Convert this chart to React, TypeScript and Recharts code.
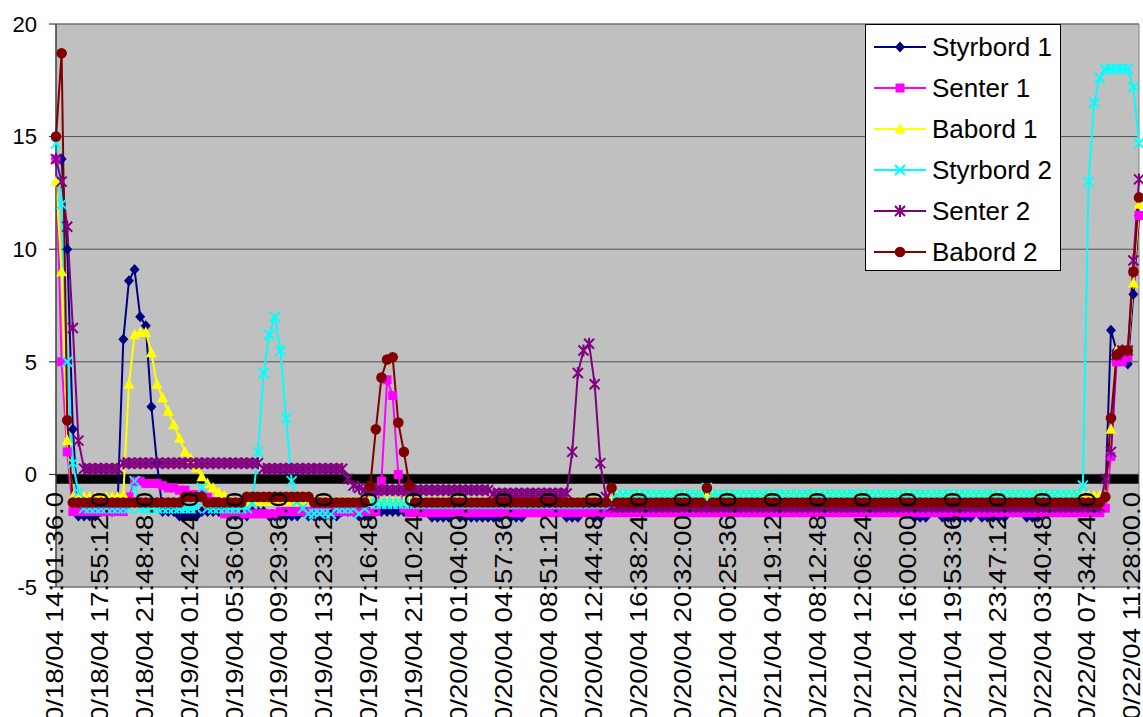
import React from "react";
import {
  LineChart,
  Line,
  XAxis,
  YAxis,
  CartesianGrid,
  ReferenceArea,
  Legend,
} from "recharts";

const FONT = "'Liberation Sans', Arial, sans-serif";

// tick labels, one every 8 samples
const tickLabels = [
  "10/18/04 14:01:36.0",
  "10/18/04 17:55:12.0",
  "10/18/04 21:48:48.0",
  "10/19/04 01:42:24.0",
  "10/19/04 05:36:00.0",
  "10/19/04 09:29:36.0",
  "10/19/04 13:23:12.0",
  "10/19/04 17:16:48.0",
  "10/19/04 21:10:24.0",
  "10/20/04 01:04:00.0",
  "10/20/04 04:57:36.0",
  "10/20/04 08:51:12.0",
  "10/20/04 12:44:48.0",
  "10/20/04 16:38:24.0",
  "10/20/04 20:32:00.0",
  "10/21/04 00:25:36.0",
  "10/21/04 04:19:12.0",
  "10/21/04 08:12:48.0",
  "10/21/04 12:06:24.0",
  "10/21/04 16:00:00.0",
  "10/21/04 19:53:36.0",
  "10/21/04 23:47:12.0",
  "10/22/04 03:40:48.0",
  "10/22/04 07:34:24.0",
  "10/22/04 11:28:00.0",
];

const styrbord1 = [
  14.0, 14.0, 10.0, 2.0, -1.85, -1.85, -1.85, -1.85,
  -1.65, -1.65, -1.65, -1.2, 6.0, 8.6, 9.1, 7.0,
  6.6, 3.0, 0.5, -1.65, -1.65, -1.65, -1.85, -1.85,
  -1.85, -1.85, -1.65, -1.65, -1.65, -1.65, -1.65, -1.85,
  -1.85, -1.85, -1.85, -1.65, -1.65, -1.65, -1.85, -1.85,
  -1.85, -1.85, -1.85, -1.85, -1.65, -1.85, -1.85, -1.85,
  -1.85, -1.85, -1.85, -1.65, -1.65, -1.65, -1.85, -1.85,
  -1.85, -1.65, -1.65, -1.65, -1.65, -1.65, -1.65, -1.65,
  -1.65, -1.65, -1.65, -1.9, -1.9, -1.9, -1.9, -1.65,
  -1.9, -1.9, -1.9, -1.9, -1.9, -1.9, -1.9, -1.9,
  -1.65, -1.9, -1.9, -1.9, -1.65, -1.65, -1.65, -1.65,
  -1.65, -1.65, -1.65, -1.9, -1.9, -1.9, -1.65, -1.65,
  -1.9, -1.9, -1.65, -1.65, -1.65, -1.65, -1.65, -1.65,
  -1.65, -1.65, -1.65, -1.65, -1.65, -1.65, -1.65, -1.65,
  -1.65, -1.65, -1.65, -1.65, -1.65, -1.65, -1.65, -1.65,
  -1.65, -1.65, -1.65, -1.65, -1.65, -1.65, -1.65, -1.65,
  -1.65, -1.65, -1.65, -1.65, -1.65, -1.65, -1.65, -1.65,
  -1.65, -1.65, -1.65, -1.65, -1.65, -1.65, -1.65, -1.65,
  -1.65, -1.65, -1.65, -1.65, -1.65, -1.65, -1.65, -1.65,
  -1.65, -1.9, -1.9, -1.9, -1.65, -1.65, -1.9, -1.9,
  -1.9, -1.9, -1.9, -1.9, -1.65, -1.9, -1.9, -1.9,
  -1.9, -1.9, -1.65, -1.65, -1.65, -1.9, -1.9, -1.9,
  -1.65, -1.65, -1.65, -1.65, -1.65, -1.65, -1.65, -1.65,
  -1.65, -1.65, -1.65, -1.0, 6.4, 5.5, 5.2, 4.9,
  8.0, 11.5,
];

const senter1 = [
  14.0, 5.0, 1.0, -1.65, -1.65, -1.65, -1.65, -1.65,
  -1.65, -1.65, -1.65, -1.65, -1.65, -1.0, -0.3, -0.3,
  -0.4, -0.4, -0.4, -0.5, -0.6, -0.6, -0.7, -0.7,
  -0.9, -0.9, -0.9, -1.0, -1.2, -1.2, -1.75, -1.75,
  -1.75, -1.75, -1.75, -1.75, -1.75, -1.75, -1.75, -1.75,
  -1.65, -1.65, -1.65, -1.65, -1.65, -1.65, -1.65, -1.65,
  -1.65, -1.65, -1.65, -1.65, -1.65, -1.65, -1.65, -1.65,
  -1.65, -1.65, -0.3, 4.2, 3.5, 0.0, -1.5, -1.7,
  -1.7, -1.7, -1.7, -1.7, -1.7, -1.7, -1.7, -1.7,
  -1.7, -1.7, -1.7, -1.7, -1.7, -1.7, -1.7, -1.7,
  -1.7, -1.7, -1.7, -1.7, -1.7, -1.7, -1.7, -1.7,
  -1.7, -1.7, -1.7, -1.7, -1.7, -1.7, -1.7, -1.7,
  -1.7, -1.7, -1.7, -1.7, -1.7, -1.7, -1.7, -1.7,
  -1.7, -1.7, -1.7, -1.7, -1.7, -1.7, -1.7, -1.7,
  -1.7, -1.7, -1.7, -1.7, -1.7, -1.7, -1.7, -1.7,
  -1.7, -1.7, -1.7, -1.7, -1.7, -1.7, -1.7, -1.7,
  -1.7, -1.7, -1.7, -1.7, -1.7, -1.7, -1.7, -1.7,
  -1.7, -1.7, -1.7, -1.7, -1.7, -1.7, -1.7, -1.7,
  -1.7, -1.7, -1.7, -1.7, -1.7, -1.7, -1.7, -1.7,
  -1.7, -1.7, -1.7, -1.7, -1.7, -1.7, -1.7, -1.7,
  -1.7, -1.7, -1.7, -1.7, -1.7, -1.7, -1.7, -1.7,
  -1.7, -1.7, -1.7, -1.7, -1.7, -1.7, -1.7, -1.7,
  -1.7, -1.7, -1.7, -1.7, -1.7, -1.7, -1.7, -1.7,
  -1.7, -1.7, -1.7, -1.5, 0.8, 5.0, 5.0, 5.2,
  9.0, 11.5,
];

const babord1 = [
  13.0, 9.0, 1.5, -1.0, -1.0, -1.0, -1.0, -1.0,
  -1.0, -1.0, -1.0, -1.0, -0.9, 4.0, 6.2, 6.3,
  6.3, 5.4, 4.0, 3.4, 2.8, 2.2, 1.6, 1.0,
  0.7, 0.3, -0.1, -0.4, -0.6, -0.8, -0.95, -1.1,
  -1.2, -1.2, -1.2, -1.2, -1.2, -1.2, -1.2, -1.2,
  -1.2, -1.2, -1.2, -1.2, -1.2, -1.2, -1.2, -1.2,
  -1.2, -1.2, -1.2, -1.2, -1.2, -1.2, -1.2, -1.2,
  -1.2, -1.2, -1.2, -1.2, -1.2, -1.2, -1.2, -1.2,
  -1.2, -1.2, -1.2, -1.2, -1.2, -1.2, -1.2, -1.2,
  -1.2, -1.2, -1.2, -1.2, -1.2, -1.2, -1.2, -1.2,
  -1.2, -1.2, -1.2, -1.2, -1.2, -1.2, -1.2, -1.2,
  -1.2, -1.2, -1.2, -1.2, -1.2, -1.2, -1.2, -1.2,
  -1.2, -1.2, -1.2, -1.2, -0.95, -0.95, -0.95, -0.95,
  -0.95, -0.95, -0.95, -0.95, -0.95, -0.95, -0.95, -0.95,
  -0.95, -0.95, -0.95, -0.95, -0.95, -0.95, -0.95, -0.95,
  -0.95, -0.95, -0.95, -0.95, -0.95, -0.95, -0.95, -0.95,
  -0.95, -0.95, -0.95, -0.95, -0.95, -0.95, -0.95, -0.95,
  -0.95, -0.95, -0.95, -0.95, -0.95, -0.95, -0.95, -0.95,
  -0.95, -0.95, -0.95, -0.95, -0.95, -0.95, -0.95, -0.95,
  -0.95, -0.95, -0.95, -0.95, -0.95, -0.95, -0.95, -0.95,
  -0.95, -0.95, -0.95, -0.95, -0.95, -0.95, -0.95, -0.95,
  -0.95, -0.95, -0.95, -0.95, -0.95, -0.95, -0.95, -0.95,
  -0.95, -0.95, -0.95, -0.95, -0.95, -0.95, -0.95, -0.95,
  -0.95, -0.95, -0.95, -0.95, 2.0, 5.5, 5.5, 5.5,
  8.5, 12.0,
];

const styrbord2 = [
  14.7, 12.0, 5.0, 0.5, -0.8, -1.5, -1.5, -1.5,
  -1.5, -1.5, -1.5, -1.5, -1.5, -1.5, -0.3, -1.5,
  -1.5, -1.5, -1.5, -1.5, -1.5, -1.5, -1.5, -1.5,
  -1.5, -1.5, -0.6, -1.5, -1.5, -1.5, -1.5, -1.5,
  -1.5, -1.5, -1.5, -1.3, 1.0, 4.5, 6.2, 7.0,
  5.5, 2.5, -0.3, -1.2, -1.5, -1.75, -1.75, -1.75,
  -1.75, -1.75, -1.5, -1.5, -1.5, -1.5, -1.75, -1.5,
  -1.3, -1.3, -1.3, -1.3, -1.3, -1.3, -1.3, -1.3,
  -1.3, -1.3, -1.3, -1.3, -1.3, -1.3, -1.3, -1.3,
  -1.3, -1.3, -1.3, -1.3, -1.3, -1.3, -1.3, -1.3,
  -1.3, -1.3, -1.3, -1.3, -1.3, -1.3, -1.3, -1.3,
  -1.3, -1.3, -1.3, -1.3, -1.3, -1.3, -1.3, -1.3,
  -1.3, -1.3, -1.3, -1.3, -0.9, -0.9, -0.9, -0.9,
  -0.9, -0.9, -0.9, -0.9, -0.9, -0.9, -0.9, -0.9,
  -0.9, -0.9, -0.9, -0.9, -0.6, -0.9, -0.9, -0.9,
  -0.9, -0.9, -0.9, -0.9, -0.9, -0.9, -0.9, -0.9,
  -0.9, -0.9, -0.9, -0.9, -0.9, -0.9, -0.9, -0.9,
  -0.9, -0.9, -0.9, -0.9, -0.9, -0.9, -0.9, -0.9,
  -0.9, -0.9, -0.9, -0.9, -0.9, -0.9, -0.9, -0.9,
  -0.9, -0.9, -0.9, -0.9, -0.9, -0.9, -0.9, -0.9,
  -0.9, -0.9, -0.9, -0.9, -0.9, -0.9, -0.9, -0.9,
  -0.9, -0.9, -0.9, -0.9, -0.9, -0.9, -0.9, -0.9,
  -0.9, -0.9, -0.9, -0.9, -0.9, -0.9, -0.9, -0.5,
  13.0, 16.5, 17.6, 18.0, 18.0, 18.0, 18.0, 18.0,
  17.2, 14.7,
];

const senter2 = [
  14.0, 13.0, 11.0, 6.5, 1.5, 0.25, 0.25, 0.25,
  0.25, 0.25, 0.25, 0.25, 0.5, 0.5, 0.5, 0.5,
  0.5, 0.5, 0.5, 0.5, 0.5, 0.5, 0.5, 0.5,
  0.5, 0.5, 0.5, 0.5, 0.5, 0.5, 0.5, 0.5,
  0.5, 0.5, 0.5, 0.5, 0.5, 0.25, 0.25, 0.25,
  0.25, 0.25, 0.25, 0.25, 0.25, 0.25, 0.25, 0.25,
  0.25, 0.25, 0.25, 0.25, -0.2, -0.5, -0.6, -0.7,
  -0.7, -0.7, -0.7, -0.7, -0.7, -0.7, -0.7, -0.7,
  -0.7, -0.7, -0.7, -0.7, -0.7, -0.7, -0.7, -0.7,
  -0.7, -0.7, -0.7, -0.7, -0.7, -0.7, -0.85, -0.85,
  -0.85, -0.85, -0.85, -0.85, -0.85, -0.85, -0.85, -0.85,
  -0.85, -0.85, -0.85, -0.85, 1.0, 4.5, 5.5, 5.8,
  4.0, 0.5, -1.0, -1.45, -1.45, -1.45, -1.45, -1.45,
  -1.45, -1.45, -1.45, -1.45, -1.45, -1.45, -1.45, -1.45,
  -1.45, -1.45, -1.45, -1.45, -1.45, -1.45, -1.45, -1.45,
  -1.45, -1.45, -1.45, -1.45, -1.45, -1.45, -1.45, -1.45,
  -1.45, -1.45, -1.45, -1.45, -1.45, -1.45, -1.45, -1.45,
  -1.45, -1.45, -1.45, -1.45, -1.45, -1.45, -1.45, -1.45,
  -1.45, -1.45, -1.45, -1.45, -1.45, -1.45, -1.45, -1.45,
  -1.45, -1.45, -1.45, -1.45, -1.45, -1.45, -1.45, -1.45,
  -1.45, -1.45, -1.45, -1.45, -1.45, -1.45, -1.45, -1.45,
  -1.45, -1.45, -1.45, -1.45, -1.45, -1.45, -1.45, -1.45,
  -1.45, -1.45, -1.45, -1.45, -1.45, -1.45, -1.45, -1.45,
  -1.45, -1.45, -1.45, -0.2, 1.0, 5.3, 5.5, 5.5,
  9.5, 13.1,
];

const babord2 = [
  15.0, 18.7, 2.4, -1.25, -1.25, -1.25, -1.25, -1.25,
  -1.25, -1.25, -1.25, -1.25, -1.25, -1.25, -1.25, -1.25,
  -1.25, -1.25, -1.25, -1.25, -1.25, -1.25, -1.25, -1.0,
  -1.0, -1.0, -1.0, -1.25, -1.25, -1.25, -1.25, -1.25,
  -1.25, -1.25, -1.0, -1.0, -1.0, -1.0, -1.0, -1.0,
  -1.0, -1.0, -1.0, -1.0, -1.0, -1.0, -1.25, -1.25,
  -1.25, -1.25, -1.25, -1.25, -1.25, -1.25, -1.25, -1.25,
  -0.5, 2.0, 4.3, 5.1, 5.2, 2.3, 1.0, -0.5,
  -1.25, -1.25, -1.25, -1.25, -1.25, -1.25, -1.25, -1.25,
  -1.25, -1.25, -1.25, -1.25, -1.25, -1.25, -1.25, -1.25,
  -1.25, -1.25, -1.25, -1.25, -1.25, -1.25, -1.25, -1.25,
  -1.25, -1.25, -1.25, -1.25, -1.25, -1.25, -1.25, -1.25,
  -1.25, -1.25, -1.25, -0.6, -1.25, -1.25, -1.25, -1.25,
  -1.25, -1.25, -1.25, -1.25, -1.25, -1.25, -1.25, -1.25,
  -1.25, -1.25, -1.25, -1.25, -0.6, -1.25, -1.25, -1.25,
  -1.25, -1.25, -1.25, -1.25, -1.25, -1.25, -1.25, -1.25,
  -1.25, -1.25, -1.25, -1.25, -1.25, -1.25, -1.25, -1.25,
  -1.25, -1.25, -1.25, -1.25, -1.25, -1.25, -1.25, -1.25,
  -1.25, -1.25, -1.25, -1.25, -1.25, -1.25, -1.25, -1.25,
  -1.25, -1.25, -1.25, -1.25, -1.25, -1.25, -1.25, -1.25,
  -1.25, -1.25, -1.25, -1.25, -1.25, -1.25, -1.25, -1.25,
  -1.25, -1.25, -1.25, -1.25, -1.25, -1.25, -1.25, -1.25,
  -1.25, -1.25, -1.25, -1.25, -1.25, -1.25, -1.25, -1.25,
  -1.25, -1.25, -1.25, -1.0, 2.5, 5.3, 5.5, 5.5,
  9.0, 12.3,
];

const series = [
  { key: "s1", name: "Styrbord 1", color: "#000080", kind: "diamond" },
  { key: "c1", name: "Senter 1", color: "#ff00ff", kind: "square" },
  { key: "b1", name: "Babord 1", color: "#ffff00", kind: "triangle" },
  { key: "s2", name: "Styrbord 2", color: "#00ffff", kind: "x" },
  { key: "c2", name: "Senter 2", color: "#800080", kind: "star" },
  { key: "b2", name: "Babord 2", color: "#800000", kind: "circle" },
];

const data = styrbord1.map((v, i) => ({
  idx: i,
  s1: v,
  c1: senter1[i],
  b1: babord1[i],
  s2: styrbord2[i],
  c2: senter2[i],
  b2: babord2[i],
}));
const last = data.length - 1;

const Marker = ({ kind, color, x, y }: { kind: string; color: string; x: number; y: number }) => {
  if (kind === "diamond")
    return <path d={`M${x},${y - 5.5}L${x + 5},${y}L${x},${y + 5.5}L${x - 5},${y}Z`} fill={color} />;
  if (kind === "square") return <rect x={x - 4.5} y={y - 4.5} width={9} height={9} fill={color} />;
  if (kind === "triangle")
    return <path d={`M${x},${y - 6}L${x + 5.5},${y + 4.5}L${x - 5.5},${y + 4.5}Z`} fill={color} />;
  if (kind === "x")
    return (
      <path d={`M${x - 5},${y - 5}L${x + 5},${y + 5}M${x + 5},${y - 5}L${x - 5},${y + 5}`} stroke={color} strokeWidth={2} fill="none" />
    );
  if (kind === "star")
    return (
      <path
        d={`M${x - 5},${y - 5}L${x + 5},${y + 5}M${x + 5},${y - 5}L${x - 5},${y + 5}M${x},${y - 6}L${x},${y + 6}`}
        stroke={color}
        strokeWidth={2}
        fill="none"
      />
    );
  return <circle cx={x} cy={y} r={5.3} fill={color} />;
};

const makeDot = (kind: string, color: string) => (p: any) =>
  <Marker key={p.index} kind={kind} color={color} x={p.cx ?? 0} y={p.cy ?? 0} />;

const XTick = ({ x, y, payload }: any) => {
  const label = tickLabels[Math.round(payload.value / 8)];
  return (
    <text
      transform={`translate(${x + 7},${y - 95}) rotate(-90) scale(1.2,1)`}
      textAnchor="end"
      fontSize={23}
      fontFamily={FONT}
      fill="#000"
    >
      {label}
    </text>
  );
};

const LegendBox = () => (
  <div
    style={{
      width: 196,
      height: 247,
      background: "#fff",
      border: "1px solid #000",
      boxSizing: "border-box",
      position: "relative",
      fontFamily: FONT,
      fontSize: 26,
      color: "#000",
    }}
  >
    {series.map((s, k) => (
      <div
        key={s.key}
        style={{ position: "absolute", left: 8, top: 7 + 41 * k, height: 30, display: "flex", alignItems: "center" }}
      >
        <svg width={52} height={16}>
          <line x1={0} x2={52} y1={8} y2={8} stroke={s.color} strokeWidth={2} />
          <Marker kind={s.kind} color={s.color} x={26} y={8} />
        </svg>
        <span style={{ marginLeft: 6, whiteSpace: "nowrap", lineHeight: "30px" }}>{s.name}</span>
      </div>
    ))}
  </div>
);

export default function App() {
  return (
    <div style={{ position: "absolute", left: 0, top: 0, background: "#fff" }}>
      <LineChart width={1143} height={717} data={data} margin={{ top: 24, right: 4, left: 0, bottom: 0 }}>
        <CartesianGrid horizontal vertical={false} stroke="#505050" fill="#c0c0c0" fillOpacity={1} />
        <ReferenceArea x1={0} x2={last} y1={-0.42} y2={0} fill="#000" fillOpacity={1} stroke="none" ifOverflow="visible" />
        <ReferenceArea x1={0} x2={last} y1={-5} y2={20} fill="none" stroke="#808080" ifOverflow="visible" />
        {series.map((s) => (
          <Line
            key={s.key}
            dataKey={s.key}
            name={s.name}
            stroke={s.color}
            strokeWidth={2}
            dot={makeDot(s.kind, s.color)}
            activeDot={false}
            isAnimationActive={false}
          />
        ))}
        <XAxis
          dataKey="idx"
          type="category"
          interval={7}
          height={130}
          axisLine={false}
          tickLine={false}
          tickSize={0}
          tickMargin={0}
          tick={<XTick />}
        />
        <YAxis
          domain={[-5, 20]}
          ticks={[-5, 0, 5, 10, 15, 20]}
          width={56}
          tickSize={7}
          tickMargin={12}
          axisLine={{ stroke: "#202020" }}
          tickLine={{ stroke: "#202020" }}
          tick={{ fontSize: 22, fontFamily: FONT, fill: "#000" }}
          interval={0}
        />
        <Legend
          layout="vertical"
          align="center"
          verticalAlign="middle"
          content={<LegendBox />}
          wrapperStyle={{ left: 865, top: 24, width: 196, height: 247 }}
        />
      </LineChart>
    </div>
  );
}
